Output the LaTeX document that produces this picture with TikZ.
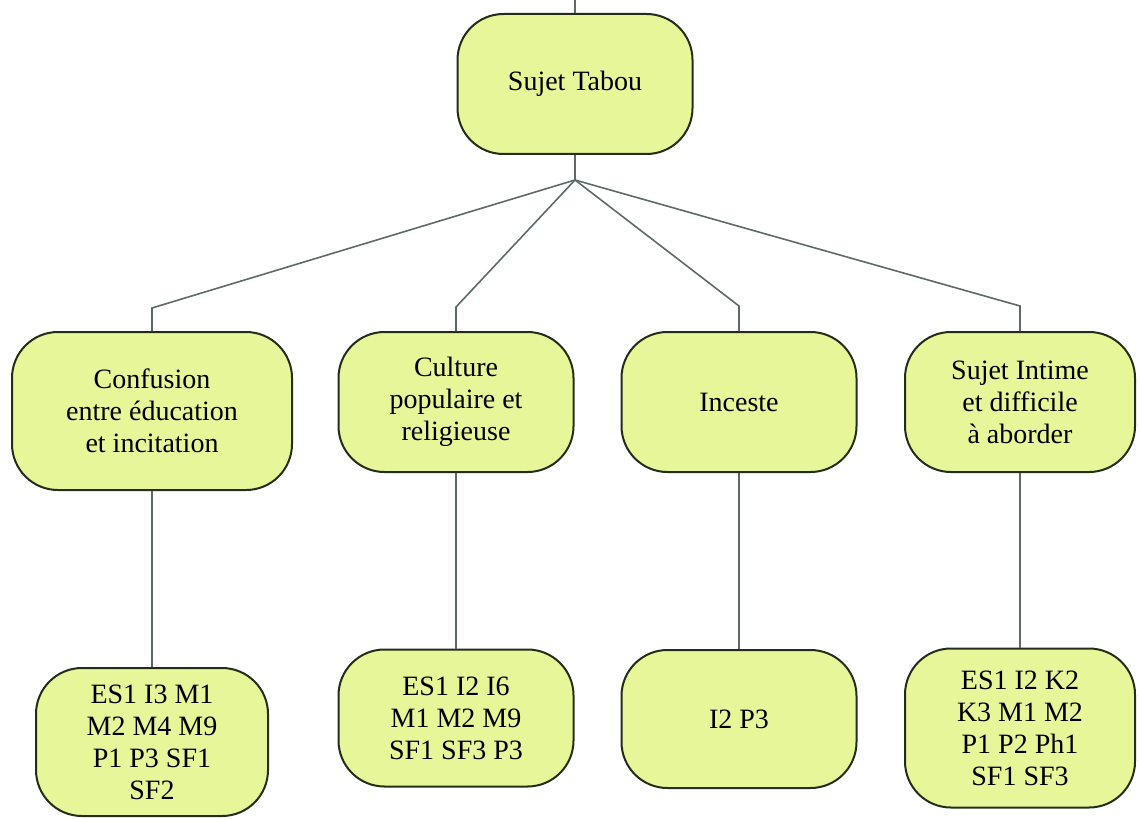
\documentclass[tikz,border=0pt]{standalone}
\usepackage{fontspec}
\setmainfont{Liberation Serif}
\usepackage{tikz}
\definecolor{boxfill}{RGB}{230,246,153}
\definecolor{boxline}{RGB}{35,45,25}
\definecolor{wire}{RGB}{95,105,105}

\begin{document}
\begin{tikzpicture}[x=0.5pt, y=-0.5pt, thick,
  main/.style = {draw=boxline, fill=boxfill, line width=1pt, rounded corners=23pt, align=center, inner sep=0pt, font=\fontsize{14}{16}\selectfont, minimum width=117.5pt, minimum height=70pt},
  link/.style = {draw=wire, line width=0.8pt}]
\useasboundingbox (0,0) rectangle (1138,818);
% top node
\node[main] (top) at (575,84) {Sujet Tabou};
% second row
\node[main, minimum width=140pt, minimum height=79pt] (c1) at (152,411) {Confusion\\entre éducation\\et incitation};
\node[main] (c2) at (456,402) {Culture\\populaire et\\religieuse};
\node[main] (c3) at (739,402) {Inceste};
\node[main, minimum width=115pt] (c4) at (1020,402) {Sujet Intime\\et difficile\\à aborder};
% third row
\node[main, minimum width=116pt, minimum height=74pt] (l1) at (152,742) {ES1 I3 M1\\M2 M4 M9\\P1 P3 SF1\\SF2};
\node[main, minimum height=68.5pt] (l2) at (456,718) {ES1 I2 I6\\M1 M2 M9\\SF1 SF3 P3};
\node[main, minimum height=69pt] (l3) at (739,719) {I2 P3};
\node[main, minimum width=115pt, minimum height=79.5pt] (l4) at (1020,728) {ES1 I2 K2\\K3 M1 M2\\P1 P2 Ph1\\SF1 SF3};
% connectors
\coordinate (stub) at (575,0);
\coordinate (hub) at (575,180);
\coordinate (b1) at (152,308);
\coordinate (b2) at (456,307);
\coordinate (b3) at (739,306);
\coordinate (b4) at (1020,306);
\draw[link] (stub) -- (top.north);
\draw[link] (top.south) -- (hub);
\draw[link] (hub) -- (b1) -- (c1.north);
\draw[link] (hub) -- (b2) -- (c2.north);
\draw[link] (hub) -- (b3) -- (c3.north);
\draw[link] (hub) -- (b4) -- (c4.north);
\draw[link] (c1.south) -- (l1.north);
\draw[link] (c2.south) -- (l2.north);
\draw[link] (c3.south) -- (l3.north);
\draw[link] (c4.south) -- (l4.north);
\end{tikzpicture}
\end{document}
